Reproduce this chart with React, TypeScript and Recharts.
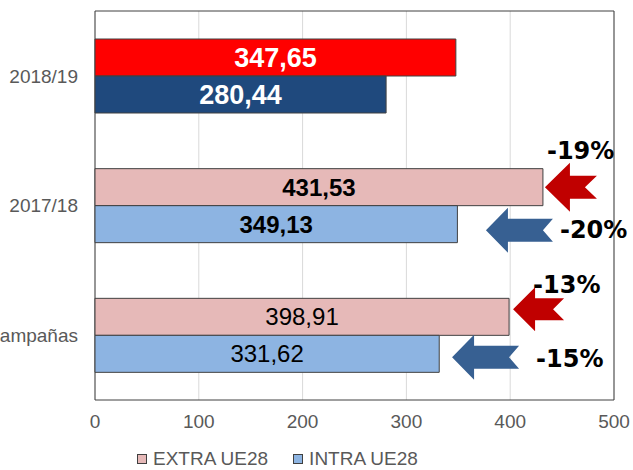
import React from 'react';
import {
  BarChart,
  Bar,
  XAxis,
  YAxis,
  CartesianGrid,
  Legend,
  ReferenceArea,
  LabelList,
  Cell,
} from 'recharts';

const categories = ['2018/19', '2017/18', 'ampañas'];
const extraUE28 = [347.65, 431.53, 398.91];
const intraUE28 = [280.44, 349.13, 331.62];
const extraChange = [null, '-19%', '-13%'];
const intraChange = [null, '-20%', '-15%'];
const xTicks = [0, 100, 200, 300, 400, 500];

const EXTRA_FILL = ['#FF0000', '#E6B9B8', '#E6B9B8'];
const INTRA_FILL = ['#1F497D', '#8DB4E2', '#8DB4E2'];
const VALUE_STYLE = [
  { color: '#FFFFFF', size: 27, weight: 700 },
  { color: '#000000', size: 24, weight: 700 },
  { color: '#000000', size: 24, weight: 400 },
];

// arrow / percentage placement relative to the end of the EXTRA bar
const ANNOT: any[] = [
  null,
  {
    red: { dx: 2, dy: 0, len: 52, head: 25, half: 24.5, shaft: 11.5, notch: 12 },
    blue: { dx: -57, dy: 43, len: 67, head: 22, half: 22.5, shaft: 11.5, notch: 10 },
    redText: { dx: 4, dy: -36 },
    blueText: { dx: 17, dy: 43 },
  },
  {
    red: { dx: 4, dy: -7.5, len: 51, head: 22, half: 22, shaft: 11, notch: 11 },
    blue: { dx: -57, dy: 40.5, len: 67, head: 22, half: 22.5, shaft: 11.5, notch: 10 },
    redText: { dx: 24, dy: -31.5 },
    blueText: { dx: 27, dy: 42.5 },
  },
];

const FONT = '"Liberation Sans", Arial, sans-serif';
const AXIS_GREY = '#595959';

const data = categories.map((name, i) => ({
  name,
  extra: extraUE28[i],
  intra: intraUE28[i],
}));

const fmt = (v: number) => v.toFixed(2).replace('.', ',');

function arrowPoints(tipX: number, cy: number, a: any) {
  const hb = tipX + a.head;
  const tail = tipX + a.len;
  return [
    [tipX, cy],
    [hb, cy - a.half],
    [hb, cy - a.shaft],
    [tail, cy - a.shaft],
    [tail - a.notch, cy],
    [tail, cy + a.shaft],
    [hb, cy + a.shaft],
    [hb, cy + a.half],
  ]
    .map((p) => p.join(','))
    .join(' ');
}

const rowIndex = (props: any, values: number[]) =>
  typeof props.index === 'number' ? props.index : values.indexOf(props.value);

const renderValue = (values: number[]) => (props: any) => {
  const { x, y, width, height, value } = props;
  const st = VALUE_STYLE[rowIndex(props, values)] || VALUE_STYLE[2];
  return (
    <text
      x={x + width / 2}
      y={y + height / 2}
      textAnchor="middle"
      dominantBaseline="central"
      fill={st.color}
      fontSize={st.size}
      fontWeight={st.weight}
      fontFamily={FONT}
    >
      {fmt(Number(value))}
    </text>
  );
};

const renderChange = (props: any) => {
  const i = rowIndex(props, extraUE28);
  const a = ANNOT[i];
  if (!a) return null;
  const ex = props.x + props.width;
  const ey = props.y + props.height / 2;
  const textProps = {
    fontSize: 24,
    fontWeight: 700,
    fontFamily: '"DejaVu Sans", Verdana, sans-serif',
    fill: '#000000',
    dominantBaseline: 'central' as const,
  };
  return (
    <g>
      <polygon points={arrowPoints(ex + a.red.dx, ey + a.red.dy, a.red)} fill="#C00000" />
      <polygon points={arrowPoints(ex + a.blue.dx, ey + a.blue.dy, a.blue)} fill="#376092" />
      <text x={ex + a.redText.dx} y={ey + a.redText.dy} {...textProps}>
        {extraChange[i]}
      </text>
      <text x={ex + a.blueText.dx} y={ey + a.blueText.dy} {...textProps}>
        {intraChange[i]}
      </text>
    </g>
  );
};

const renderLegend = () => (
  <div
    style={{
      height: 40,
      display: 'flex',
      alignItems: 'center',
      paddingTop: 18,
      paddingLeft: 137,
      boxSizing: 'border-box',
      fontFamily: FONT,
      fontSize: 19,
      color: AXIS_GREY,
      lineHeight: '20px',
    }}
  >
    {[
      { label: 'EXTRA UE28', color: '#E6B9B8' },
      { label: 'INTRA UE28', color: '#8DB4E2' },
    ].map((it) => (
      <span key={it.label} style={{ display: 'flex', alignItems: 'center', marginRight: 25 }}>
        <span
          style={{
            width: 8,
            height: 8,
            background: it.color,
            border: '1px solid #404040',
            marginRight: 6,
          }}
        />
        {it.label}
      </span>
    ))}
  </div>
);

export default function App() {
  return (
    <div style={{ position: 'absolute', left: 0, top: 0, background: '#fff' }}>
      <BarChart
        width={633}
        height={470}
        data={data}
        layout="vertical"
        margin={{ top: 11, right: 19, left: 0, bottom: 0 }}
        barSize={37}
        barGap={0}
      >
        <CartesianGrid horizontal={false} stroke="#D9D9D9" />
        <XAxis
          type="number"
          domain={[0, 500]}
          ticks={xTicks}
          axisLine={false}
          tickLine={false}
          tickSize={0}
          tickMargin={15}
          height={30}
          tick={{ fill: AXIS_GREY, fontSize: 19, fontFamily: FONT }}
        />
        <YAxis
          type="category"
          dataKey="name"
          width={95}
          axisLine={false}
          tickLine={false}
          tickSize={0}
          tickMargin={17}
          tick={{ fill: AXIS_GREY, fontSize: 19, fontFamily: FONT }}
        />
        <Legend
          verticalAlign="bottom"
          height={40}
          content={renderLegend}
          wrapperStyle={{ left: 0, width: 633, bottom: 0 }}
        />
        <Bar dataKey="extra" name="EXTRA UE28" stroke="#404040" strokeWidth={1} isAnimationActive={false}>
          {data.map((d, i) => (
            <Cell key={d.name} fill={EXTRA_FILL[i]} />
          ))}
          <LabelList dataKey="extra" content={renderValue(extraUE28)} />
          <LabelList dataKey="extra" content={renderChange} />
        </Bar>
        <Bar dataKey="intra" name="INTRA UE28" stroke="#404040" strokeWidth={1} isAnimationActive={false}>
          {data.map((d, i) => (
            <Cell key={d.name} fill={INTRA_FILL[i]} />
          ))}
          <LabelList dataKey="intra" content={renderValue(intraUE28)} />
        </Bar>
        <ReferenceArea x1={0} x2={500} fill="none" stroke="#404040" strokeWidth={1} />
      </BarChart>
    </div>
  );
}
